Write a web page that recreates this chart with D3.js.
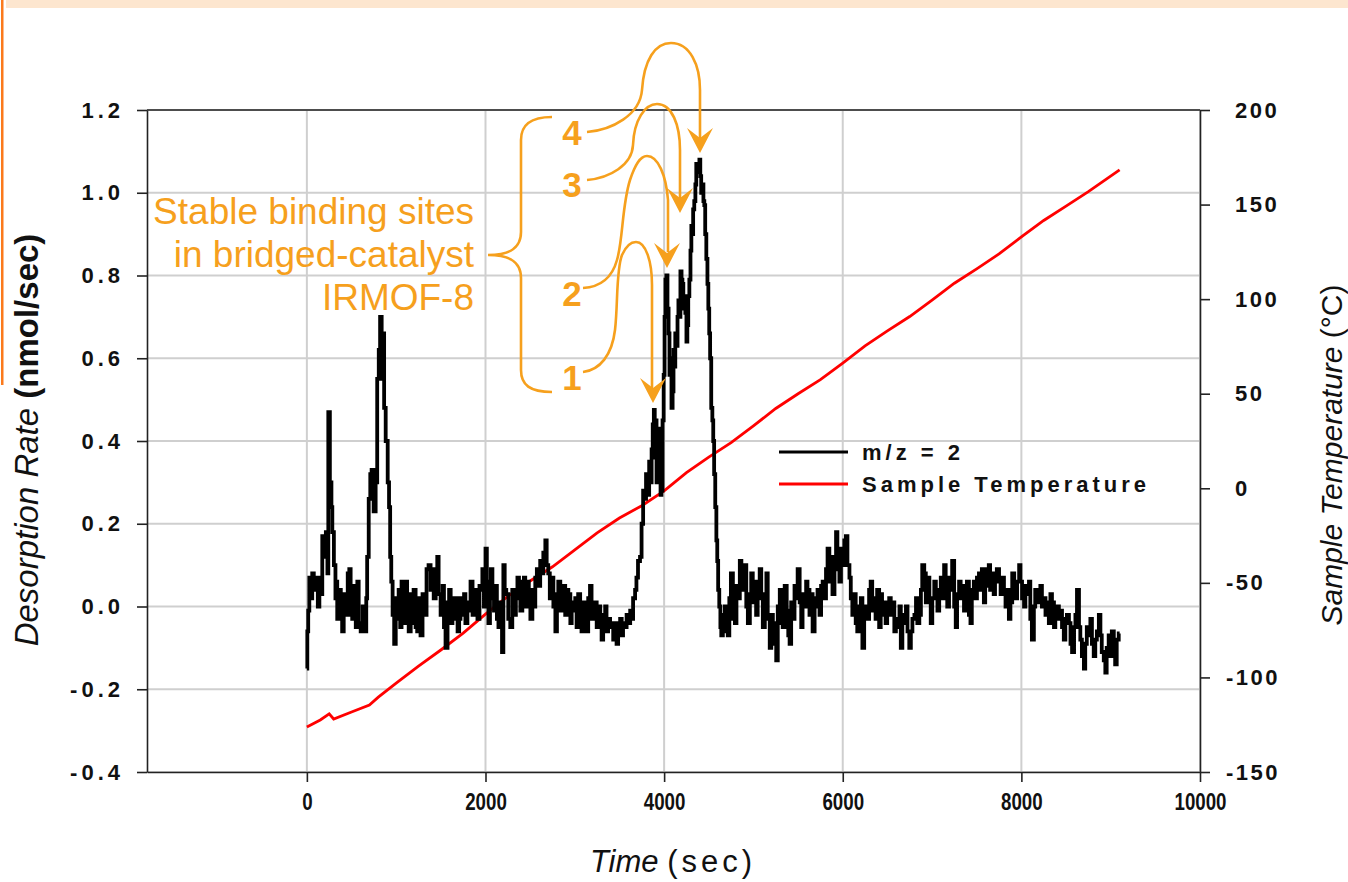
<!DOCTYPE html>
<html>
<head>
<meta charset="utf-8">
<script src="https://cdn.jsdelivr.net/npm/d3@7"></script>
<style>
  body { margin: 0; background: #fff; }
  svg { display: block; font-family: "Liberation Sans", Arial, sans-serif; }
  .axis .domain, .axis line { stroke: #222; stroke-width: 1.6; }
  .grid line { stroke: #cfcfcf; stroke-width: 2; }
</style>
</head>
<body>
<svg id="chart" width="1348" height="882"></svg>
<script>

//--- Data ---------------------------------------------------------------------------------   //

var timeTicks = [0, 2000, 4000, 6000, 8000, 10000];
var rateTicks = [-0.4, -0.2, 0.0, 0.2, 0.4, 0.6, 0.8, 1.0, 1.2];
var tempTicks = [-150, -100, -50, 0, 50, 100, 150, 200];
var legendLabels = ["m/z = 2", "Sample Temperature"];
var noteLines = ["Stable binding sites", "in bridged-catalyst", "IRMOF-8"];
var siteLabels = ["4", "3", "2", "1"];

// desorption rate m/z = 2  [time sec, nmol/sec]
var rateSeries = [
    [0,-0.15],[10,-0.06],[20,-0.01],[35,0.07],[55,0.02],[65,0.08],[90,0.04],[110,0.07],[135,0.0],[145,0.07],
    [165,0.03],[180,0.17],[200,0.12],[225,0.18],[235,0.08],[245,0.47],[270,0.30],[280,0.24],[290,0.18],[315,0.10],
    [325,0.02],[335,0.06],[345,-0.03],[370,0.04],[390,-0.01],[400,-0.06],[425,0.03],[445,-0.02],[470,0.08],[480,0.09],
    [500,-0.02],[515,-0.03],[535,0.05],[560,-0.05],[570,0.06],[590,-0.04],[615,-0.06],[635,0.0],[660,-0.06],[670,0.02],
    [680,0.12],[705,0.26],[715,0.32],[735,0.33],[760,0.23],[780,0.30],[795,0.55],[815,0.62],[825,0.70],[850,0.55],
    [860,0.66],[870,0.48],[895,0.40],[915,0.30],[925,0.24],[940,0.12],[950,0.06],[970,-0.02],[985,-0.09],[1005,0.02],
    [1015,-0.03],[1040,0.04],[1050,-0.05],[1070,0.06],[1095,-0.04],[1115,0.06],[1130,-0.02],[1150,-0.06],[1175,0.03],[1185,-0.04],
    [1205,0.04],[1230,-0.05],[1240,-0.06],[1260,0.02],[1285,-0.07],[1305,0.03],[1330,-0.02],[1350,0.09],[1375,0.10],[1395,0.04],
    [1410,0.09],[1430,0.02],[1455,0.08],[1465,0.12],[1485,0.03],[1510,-0.02],[1530,0.05],[1540,-0.05],[1565,-0.10],[1585,0.01],
    [1600,0.04],[1620,-0.04],[1640,0.02],[1665,-0.03],[1675,0.02],[1700,-0.06],[1710,-0.03],[1730,0.02],[1755,-0.02],[1765,0.03],
    [1785,-0.04],[1810,0.01],[1820,-0.01],[1845,0.06],[1865,-0.02],[1890,0.03],[1900,0.04],[1920,-0.03],[1945,0.05],[1955,0.04],
    [1975,0.09],[1990,0.0],[2010,0.14],[2020,0.06],[2045,-0.04],[2055,0.05],[2065,0.09],[2090,0.02],[2100,-0.01],[2120,0.05],
    [2135,-0.03],[2155,-0.05],[2180,0.01],[2190,-0.11],[2210,0.10],[2220,0.04],[2245,0.03],[2265,-0.03],[2290,-0.05],[2310,0.04],
    [2335,-0.02],[2345,0.02],[2370,0.07],[2380,0.06],[2400,-0.01],[2425,0.05],[2435,0.07],[2455,0.0],[2480,0.06],[2490,0.03],
    [2515,-0.03],[2535,0.04],[2545,0.0],[2570,0.07],[2580,0.09],[2600,0.05],[2625,0.11],[2635,0.08],[2660,0.13],[2680,0.16],
    [2690,0.10],[2715,0.08],[2725,0.02],[2750,0.07],[2770,0.0],[2795,-0.06],[2805,0.03],[2825,0.06],[2850,-0.01],[2860,0.04],
    [2880,0.05],[2905,-0.02],[2915,0.04],[2940,0.03],[2960,-0.04],[2970,0.01],[2995,-0.01],[3015,0.02],[3025,-0.05],[3050,0.03],
    [3070,-0.02],[3080,-0.06],[3105,0.01],[3125,-0.01],[3140,-0.06],[3160,0.02],[3180,0.05],[3195,-0.03],[3215,-0.03],[3240,0.01],
    [3250,-0.05],[3275,0.0],[3295,-0.04],[3305,-0.08],[3330,-0.02],[3350,0.0],[3360,-0.06],[3385,-0.03],[3405,-0.05],[3420,-0.04],
    [3440,-0.08],[3460,-0.04],[3475,-0.09],[3495,-0.05],[3520,-0.03],[3530,-0.07],[3550,-0.04],[3575,-0.05],[3585,-0.02],[3610,-0.04],
    [3630,-0.01],[3640,-0.03],[3665,0.02],[3685,0.04],[3695,0.07],[3720,0.11],[3740,0.12],[3755,0.20],[3775,0.28],[3785,0.26],
    [3810,0.32],[3820,0.27],[3845,0.35],[3855,0.30],[3865,0.38],[3880,0.44],[3890,0.475],[3900,0.36],[3910,0.45],[3920,0.30],
    [3935,0.43],[3945,0.30],[3955,0.42],[3965,0.27],[3975,0.28],[3990,0.45],[4000,0.56],[4010,0.70],[4020,0.79],[4030,0.80],
    [4045,0.72],[4055,0.66],[4065,0.56],[4075,0.60],[4090,0.48],[4100,0.52],[4110,0.62],[4120,0.58],[4130,0.66],[4145,0.63],
    [4155,0.70],[4165,0.74],[4175,0.70],[4190,0.81],[4200,0.79],[4210,0.78],[4220,0.72],[4230,0.75],[4245,0.71],[4255,0.64],
    [4265,0.68],[4275,0.75],[4290,0.79],[4300,0.86],[4310,0.92],[4320,0.90],[4330,0.96],[4345,0.98],[4355,1.02],[4365,1.07],
    [4375,1.05],[4390,1.06],[4400,1.08],[4410,1.04],[4420,1.00],[4435,1.02],[4445,0.98],[4455,0.97],[4465,0.90],[4480,0.84],
    [4490,0.78],[4500,0.72],[4510,0.66],[4520,0.60],[4535,0.48],[4545,0.45],[4555,0.40],[4565,0.32],[4580,0.24],[4590,0.16],
    [4600,0.11],[4610,0.04],[4625,0.0],[4635,-0.05],[4645,-0.07],[4670,-0.02],[4690,0.0],[4700,-0.06],[4725,-0.07],[4735,0.02],
    [4760,0.08],[4780,-0.03],[4805,-0.04],[4815,0.05],[4835,0.02],[4860,0.11],[4870,0.04],[4895,0.08],[4915,0.10],[4925,0.0],
    [4950,-0.04],[4970,0.03],[4980,0.08],[5005,0.01],[5025,0.06],[5035,-0.02],[5060,0.03],[5080,0.09],[5095,0.02],[5115,-0.05],
    [5140,0.03],[5150,0.08],[5170,-0.03],[5195,-0.10],[5205,-0.02],[5230,-0.04],[5250,-0.09],[5260,-0.13],[5285,0.0],[5305,0.04],
    [5315,-0.04],[5340,-0.05],[5360,0.05],[5385,-0.01],[5395,-0.07],[5415,-0.09],[5430,0.01],[5450,-0.03],[5470,0.05],[5485,0.02],
    [5505,0.09],[5530,0.01],[5540,-0.05],[5560,0.03],[5585,0.0],[5595,0.06],[5615,0.04],[5640,-0.02],[5650,0.03],[5675,-0.06],
    [5695,0.02],[5705,0.0],[5730,0.04],[5750,-0.02],[5765,0.05],[5785,0.06],[5805,0.02],[5820,0.09],[5840,0.14],[5860,0.06],
    [5875,0.12],[5895,0.03],[5920,0.10],[5930,0.18],[5950,0.09],[5975,0.06],[5985,0.14],[6005,0.10],[6030,0.16],[6040,0.17],
    [6065,0.10],[6085,0.07],[6095,0.02],[6120,-0.02],[6140,0.03],[6150,-0.04],[6175,-0.06],[6195,0.0],[6210,0.02],[6230,-0.10],
    [6250,-0.02],[6265,0.0],[6285,-0.03],[6305,0.04],[6320,0.06],[6340,-0.01],[6360,0.02],[6375,-0.03],[6395,0.04],[6420,-0.05],
    [6430,0.03],[6450,-0.02],[6475,0.01],[6485,-0.04],[6510,-0.01],[6530,0.02],[6545,-0.02],[6565,0.01],[6590,-0.06],[6600,-0.03],
    [6625,-0.05],[6645,0.0],[6655,-0.10],[6680,-0.04],[6700,-0.02],[6715,0.0],[6735,-0.06],[6755,-0.10],[6770,-0.06],[6790,-0.03],
    [6815,-0.02],[6825,0.02],[6845,-0.04],[6870,-0.02],[6880,0.04],[6900,0.10],[6925,0.08],[6935,0.01],[6960,0.07],[6980,0.01],
    [6990,-0.04],[7015,0.02],[7035,0.06],[7050,0.03],[7070,-0.01],[7090,0.04],[7105,0.07],[7125,0.02],[7145,0.10],[7160,0.05],
    [7180,0.0],[7200,0.07],[7215,0.04],[7235,0.11],[7260,0.0],[7270,-0.05],[7290,0.03],[7315,0.06],[7325,0.02],[7345,0.05],
    [7370,-0.01],[7380,0.02],[7400,0.06],[7425,-0.02],[7435,-0.04],[7455,0.04],[7480,0.06],[7490,0.02],[7515,0.07],[7535,0.08],
    [7545,0.04],[7570,0.09],[7590,0.01],[7600,0.05],[7625,0.09],[7645,0.10],[7655,0.04],[7680,0.08],[7700,0.03],[7710,0.06],
    [7740,0.09],[7760,0.07],[7775,0.03],[7795,0.07],[7815,0.04],[7830,0.0],[7850,0.04],[7870,-0.03],[7885,0.01],[7910,0.08],
    [7930,0.05],[7940,0.02],[7965,0.06],[7985,0.10],[7995,0.06],[8020,0.02],[8040,0.0],[8050,0.05],[8075,0.03],[8095,0.06],
    [8105,-0.03],[8130,-0.08],[8150,0.0],[8160,0.04],[8185,0.01],[8205,0.03],[8220,0.05],[8240,0.0],[8265,0.02],[8275,-0.02],
    [8295,0.01],[8320,-0.04],[8330,0.03],[8355,0.01],[8375,-0.05],[8385,-0.03],[8410,0.0],[8430,-0.03],[8445,-0.01],[8465,-0.05],
    [8485,-0.08],[8500,-0.03],[8520,-0.02],[8545,-0.04],[8555,-0.09],[8580,-0.11],[8600,-0.05],[8610,-0.02],[8635,0.04],[8655,-0.05],
    [8665,-0.08],[8690,-0.12],[8710,-0.15],[8720,-0.09],[8745,-0.05],[8765,-0.07],[8780,-0.03],[8800,-0.09],[8820,-0.12],[8835,-0.08],
    [8855,-0.06],[8880,-0.02],[8890,-0.07],[8910,-0.11],[8935,-0.13],[8945,-0.16],[8965,-0.10],[8990,-0.07],[9000,-0.12],[9025,-0.06],
    [9045,-0.09],[9055,-0.14],[9080,-0.08],[9100,-0.065]
];

// sample temperature  [time sec, degC]
var tempSeries = [
    [0,-126.2],[150,-122.5],[250,-119.3],[300,-122],[500,-118.3],[700,-114.6],[800,-110.4],[1000,-103],[1250,-94.0],[1500,-85.5],
    [1750,-76.6],[2000,-66.5],[2250,-57.2],[2500,-49],[2750,-41.5],[3000,-32.6],[3250,-23.6],[3500,-15.7],[3750,-9.2],[4000,-1.4],
    [4250,8.3],[4500,16.5],[4750,24.1],[5000,33],[5250,42.2],[5500,50],[5750,57.4],[6000,66.2],[6250,75.3],[6500,83.2],
    [6750,90.8],[7000,99.5],[7250,108.4],[7500,116],[7750,123.9],[8000,132.9],[8250,141.6],[8500,149.2],[8750,156.8],[9100,168.3]
];

//--- Chart --------------------------------------------------------------------------------   //

var svg = d3.select("#chart");
var orange = "#f6a01d";

var x = d3.scaleLinear().domain([-1790, 10000]).range([147, 1200]);
var y = d3.scaleLinear().domain([-0.4, 1.2]).range([772, 110]);
var y2 = d3.scaleLinear().domain([-150, 200]).range([772, 110]);

// slide decoration
svg.append("rect").attr("x", 6).attr("y", 0).attr("width", 1342).attr("height", 8).attr("fill", "#fde6cf");
svg.append("rect").attr("x", 1).attr("y", 0).attr("width", 2.5).attr("height", 385).attr("fill", "#fb7a1c");

// grid
var grid = svg.append("g").attr("class", "grid");
grid.selectAll(".vg").data(timeTicks).enter().append("line")
    .attr("x1", function(d) { return x(d); }).attr("x2", function(d) { return x(d); })
    .attr("y1", y(1.2)).attr("y2", y(-0.4));
grid.selectAll(".hg").data(rateTicks).enter().append("line")
    .attr("x1", x(-1790)).attr("x2", x(10000))
    .attr("y1", function(d) { return y(d); }).attr("y2", function(d) { return y(d); });

// frame top
svg.append("line").attr("x1", 147).attr("x2", 1200).attr("y1", 110).attr("y2", 110)
    .attr("stroke", "#222").attr("stroke-width", 1.6);

// axes
var ax = svg.append("g").attr("class", "axis").attr("transform", "translate(0,772)")
    .call(d3.axisBottom(x).tickValues(timeTicks).tickSize(10).tickSizeOuter(0).tickPadding(11)
        .tickFormat(function(d) { return String(d); }));
ax.selectAll("text")
    .attr("transform", "scale(0.78,1)")
    .style("font-size", "24px").style("font-weight", "bold").style("fill", "#111");

var ay = svg.append("g").attr("class", "axis").attr("transform", "translate(147,0)")
    .call(d3.axisLeft(y).tickValues(rateTicks).tickSize(10).tickSizeOuter(0).tickPadding(13)
        .tickFormat(function(d) { return d.toFixed(1); }));
ay.selectAll("text")
    .style("font-size", "22px").style("font-weight", "bold").style("fill", "#111")
    .style("letter-spacing", "4px");

var ay2 = svg.append("g").attr("class", "axis").attr("transform", "translate(1200,0)")
    .call(d3.axisRight(y2).tickValues(tempTicks).tickSize(10).tickSizeOuter(0)
        .tickFormat(function(d) { return String(d); }));
ay2.selectAll("text")
    .attr("x", function(d) { return d < 0 ? 26 : 35; })
    .style("font-size", "22px").style("font-weight", "bold").style("fill", "#111")
    .style("letter-spacing", "2.5px");

// series
var line = d3.line()
    .x(function(d) { return x(d[0]); })
    .y(function(d) { return y(d[1]); })
    .curve(d3.curveStep);

var line2 = d3.line()
    .x(function(d) { return x(d[0]); })
    .y(function(d) { return y2(d[1]); });

svg.append("path").datum(tempSeries)
    .attr("d", line2).attr("fill", "none").attr("stroke", "#f00").attr("stroke-width", 2.8);

svg.append("path").datum(rateSeries)
    .attr("d", line).attr("fill", "none").attr("stroke", "#000").attr("stroke-width", 3.8)
    .attr("stroke-linejoin", "miter");

// legend
var legendColors = ["#000", "#f00"];
var legend = svg.selectAll(".legend").data(legendLabels).enter().append("g")
    .attr("transform", function(d, i) { return "translate(779," + (452 + i * 32) + ")"; });
legend.append("line").attr("x1", 0).attr("x2", 69).attr("y1", 0).attr("y2", 0)
    .attr("stroke", function(d, i) { return legendColors[i]; }).attr("stroke-width", 3);
legend.append("text").attr("x", 83).attr("y", 8)
    .attr("font-weight", "bold").attr("font-size", 22).attr("fill", "#111")
    .style("letter-spacing", "4px")
    .text(function(d) { return d; });

// axis titles
var t1 = svg.append("text").attr("transform", "translate(38,440) rotate(-90)")
    .attr("text-anchor", "middle").attr("font-size", 33).attr("fill", "#111");
t1.append("tspan").attr("font-style", "italic").text("Desorption Rate ");
t1.append("tspan").attr("font-weight", "bold").text("(nmol/sec)");

var t2 = svg.append("text").attr("x", 673).attr("y", 872)
    .attr("text-anchor", "middle").attr("font-size", 31).attr("fill", "#111");
t2.append("tspan").attr("font-style", "italic").text("Time ");
t2.append("tspan").style("letter-spacing", "4px").text("(sec)");

var t3 = svg.append("text").attr("transform", "translate(1342,455) rotate(-90)")
    .attr("text-anchor", "middle").attr("font-size", 30).attr("fill", "#111");
t3.append("tspan").attr("font-style", "italic").text("Sample Temperature ");
t3.append("tspan").text("(°C)");

//--- Annotation ---------------------------------------------------------------------------   //

var note = svg.append("g").attr("fill", orange);
note.selectAll("text").data(noteLines).enter().append("text")
    .attr("x", 474).attr("y", function(d, i) { return 224 + i * 43; })
    .attr("text-anchor", "end").attr("font-size", 37)
    .text(function(d) { return d; });

var siteY = [145, 197, 306, 390];
note.selectAll(".site").data(siteLabels).enter().append("text")
    .attr("x", 572).attr("y", function(d, i) { return siteY[i]; })
    .attr("text-anchor", "middle").attr("font-size", 35).attr("font-weight", "bold")
    .text(function(d) { return d; });

var brace = "M552,117 C530,117 521,125 521,140 L521,232 C521,248 510,255 488,255 " +
            "C510,255 521,262 521,278 L521,370 C521,385 530,392 552,392";
svg.append("path").attr("d", brace).attr("fill", "none").attr("stroke", orange).attr("stroke-width", 2.6);

var loops = [
    "M587,132 C612,130 640,115 642,90 C644,60 655,43 671,43 C690,43 700,65 700,90 L700,138",
    "M587,180 C610,178 632,165 633,145 C634,120 645,104 657,104 C672,104 680,125 680,150 L680,198",
    "M583,288 C600,287 612,278 617,260 C623,240 622,205 630,180 C635,165 640,156 647,156 C658,156 666,175 668,200 L668,252",
    "M583,372 C600,370 612,355 615,330 C618,305 616,270 622,255 C626,246 630,242 636,242 C646,242 652,262 652,285 L652,388"
];
svg.selectAll(".loop").data(loops).enter().append("path")
    .attr("d", function(d) { return d; })
    .attr("fill", "none").attr("stroke", orange).attr("stroke-width", 2.6);

// arrow heads [tipX, tipY]
var heads = [[700, 153], [680, 213], [667, 268], [653, 403]];
svg.selectAll(".head").data(heads).enter().append("path")
    .attr("d", function(d) {
        return "M" + d[0] + "," + d[1] + " L" + (d[0] - 13) + "," + (d[1] - 25) +
               " L" + d[0] + "," + (d[1] - 15) + " L" + (d[0] + 13) + "," + (d[1] - 25) + " Z";
    })
    .attr("fill", orange);

</script>
</body>
</html>
